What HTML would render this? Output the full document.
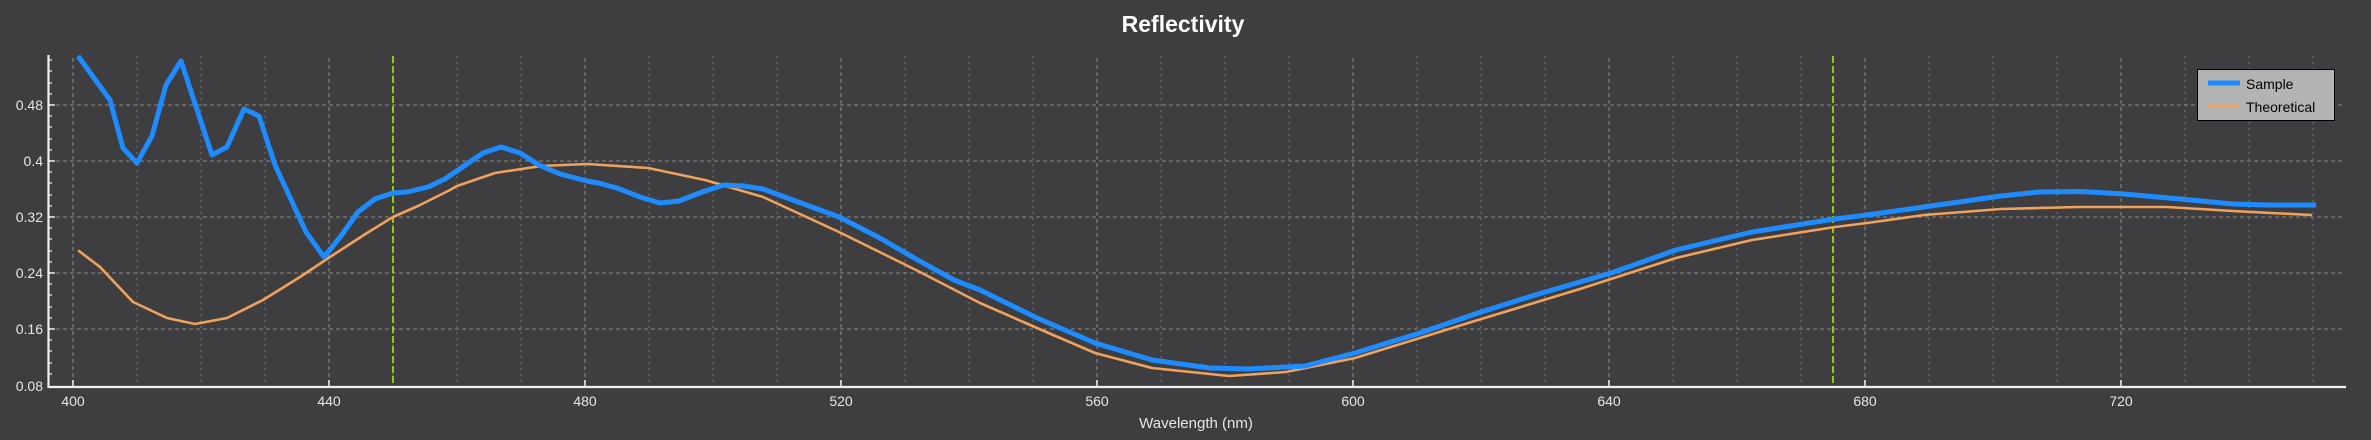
<!DOCTYPE html>
<html><head><meta charset="utf-8"><style>
html,body{margin:0;padding:0;background:#3e3e41;}
svg{display:block;font-family:"Liberation Sans","DejaVu Sans",sans-serif;}
</style></head><body>
<svg width="2371" height="440" viewBox="0 0 2371 440" xmlns="http://www.w3.org/2000/svg">
<rect width="2371" height="440" fill="#3e3e41"/>
<text x="1183" y="32" font-size="23" font-weight="bold" fill="#ffffff" text-anchor="middle">Reflectivity</text>
<g stroke="#777" stroke-width="1" stroke-dasharray="2,4">
<line x1="137" y1="56" x2="137" y2="386"/><line x1="201" y1="56" x2="201" y2="386"/><line x1="265" y1="56" x2="265" y2="386"/>
<line x1="393" y1="56" x2="393" y2="386"/><line x1="457" y1="56" x2="457" y2="386"/><line x1="521" y1="56" x2="521" y2="386"/>
<line x1="649" y1="56" x2="649" y2="386"/><line x1="713" y1="56" x2="713" y2="386"/><line x1="777" y1="56" x2="777" y2="386"/>
<line x1="905" y1="56" x2="905" y2="386"/><line x1="969" y1="56" x2="969" y2="386"/><line x1="1033" y1="56" x2="1033" y2="386"/>
<line x1="1161" y1="56" x2="1161" y2="386"/><line x1="1225" y1="56" x2="1225" y2="386"/><line x1="1289" y1="56" x2="1289" y2="386"/>
<line x1="1417" y1="56" x2="1417" y2="386"/><line x1="1481" y1="56" x2="1481" y2="386"/><line x1="1545" y1="56" x2="1545" y2="386"/>
<line x1="1673" y1="56" x2="1673" y2="386"/><line x1="1737" y1="56" x2="1737" y2="386"/><line x1="1801" y1="56" x2="1801" y2="386"/>
<line x1="1929" y1="56" x2="1929" y2="386"/><line x1="1993" y1="56" x2="1993" y2="386"/><line x1="2057" y1="56" x2="2057" y2="386"/>
<line x1="2185" y1="56" x2="2185" y2="386"/><line x1="2249" y1="56" x2="2249" y2="386"/><line x1="2313" y1="56" x2="2313" y2="386"/>
</g>
<g stroke="#7c7c7c" stroke-width="1.3" stroke-dasharray="4,3">
<line x1="73" y1="58" x2="73" y2="386"/><line x1="329" y1="58" x2="329" y2="386"/><line x1="585" y1="58" x2="585" y2="386"/>
<line x1="841" y1="58" x2="841" y2="386"/><line x1="1097" y1="58" x2="1097" y2="386"/><line x1="1353" y1="58" x2="1353" y2="386"/>
<line x1="1609" y1="58" x2="1609" y2="386"/><line x1="1865" y1="58" x2="1865" y2="386"/><line x1="2121" y1="58" x2="2121" y2="386"/>
<line x1="49" y1="105" x2="2343" y2="105"/><line x1="49" y1="161" x2="2343" y2="161"/><line x1="49" y1="217" x2="2343" y2="217"/>
<line x1="49" y1="273" x2="2343" y2="273"/><line x1="49" y1="329" x2="2343" y2="329"/>
</g>
<g stroke="#b2f01e" stroke-width="1.5" stroke-dasharray="7,3">
<line x1="393" y1="56" x2="393" y2="386"/><line x1="1833" y1="56" x2="1833" y2="386"/>
</g>
<polyline fill="none" stroke="#f0a25c" stroke-width="2.6" stroke-linejoin="round" stroke-linecap="round" points="79,251 100,267 133,302 167,318 195,324 227,318 263,300 300,277 330,257 367,233 393,217 418,206 450,190 457,186 495,173 541,166 587,164 648,168 705,180 763,197 839,232 916,270 980,303 1037,328 1095,353 1152,368 1229,376 1286,372 1355,358 1420,338 1478,320 1580,289 1611,279 1676,258 1752,240 1835,227 1867,223 1924,215 2001,209 2078,207 2124,207 2167,207 2233,211 2311,215"/>
<polyline fill="none" stroke="#1e8cff" stroke-width="5" stroke-linejoin="round" points="78,56 110,100 123,148 137,163 152,136 166,85 181,61 212,155 227,147 244,109 259,116 275,165 306,232 324,257 341,236 358,212 375,199 393,193 407,192 428,187 445,179 464,166 483,153 501,147 520,153 539,165 560,174 587,181 598,183 617,188 640,197 660,203 679,201 702,192 724,185 744,186 763,189 801,203 839,217 878,237 916,259 954,280 980,290 1037,318 1095,343 1152,360 1210,368 1248,369 1305,366 1355,353 1420,333 1478,313 1535,295 1580,282 1611,273 1676,250 1752,232 1835,219 1867,215 1924,207 2001,196 2039,192 2081,191.5 2124,194 2180,199 2233,204 2267,205 2316,205"/>
<g stroke="#f0f0f0" stroke-width="2.2">
<line x1="48.5" y1="55" x2="48.5" y2="388"/><line x1="47.5" y1="387" x2="2346" y2="387"/>
</g>
<g stroke="#f0f0f0" stroke-width="1.5">
<line x1="73" y1="386" x2="73" y2="380"/><line x1="329" y1="386" x2="329" y2="380"/><line x1="585" y1="386" x2="585" y2="380"/>
<line x1="841" y1="386" x2="841" y2="380"/><line x1="1097" y1="386" x2="1097" y2="380"/><line x1="1353" y1="386" x2="1353" y2="380"/>
<line x1="1609" y1="386" x2="1609" y2="380"/><line x1="1865" y1="386" x2="1865" y2="380"/><line x1="2121" y1="386" x2="2121" y2="380"/>
<line x1="49" y1="105" x2="55" y2="105"/><line x1="49" y1="161" x2="55" y2="161"/><line x1="49" y1="217" x2="55" y2="217"/>
<line x1="49" y1="273" x2="55" y2="273"/><line x1="49" y1="329" x2="55" y2="329"/>
</g>
<g stroke="#f0f0f0" stroke-width="1.2">
<line x1="49" y1="60" x2="52" y2="60"/><line x1="49" y1="71" x2="52" y2="71"/><line x1="49" y1="83" x2="52" y2="83"/><line x1="49" y1="94" x2="52" y2="94"/>
<line x1="49" y1="116" x2="52" y2="116"/><line x1="49" y1="127" x2="52" y2="127"/><line x1="49" y1="139" x2="52" y2="139"/><line x1="49" y1="150" x2="52" y2="150"/>
<line x1="49" y1="172" x2="52" y2="172"/><line x1="49" y1="183" x2="52" y2="183"/><line x1="49" y1="195" x2="52" y2="195"/><line x1="49" y1="206" x2="52" y2="206"/>
<line x1="49" y1="228" x2="52" y2="228"/><line x1="49" y1="239" x2="52" y2="239"/><line x1="49" y1="251" x2="52" y2="251"/><line x1="49" y1="262" x2="52" y2="262"/>
<line x1="49" y1="284" x2="52" y2="284"/><line x1="49" y1="295" x2="52" y2="295"/><line x1="49" y1="307" x2="52" y2="307"/><line x1="49" y1="318" x2="52" y2="318"/>
<line x1="49" y1="340" x2="52" y2="340"/><line x1="49" y1="351" x2="52" y2="351"/><line x1="49" y1="363" x2="52" y2="363"/><line x1="49" y1="374" x2="52" y2="374"/>
</g>
<g fill="#e6e6e6" font-size="14" text-anchor="end">
<text x="43" y="110">0.48</text><text x="43" y="166">0.4</text><text x="43" y="222">0.32</text>
<text x="43" y="278">0.24</text><text x="43" y="334">0.16</text><text x="43" y="391">0.08</text>
</g>
<g fill="#e6e6e6" font-size="14" text-anchor="middle">
<text x="73" y="406">400</text><text x="329" y="406">440</text><text x="585" y="406">480</text>
<text x="841" y="406">520</text><text x="1097" y="406">560</text><text x="1353" y="406">600</text>
<text x="1609" y="406">640</text><text x="1865" y="406">680</text><text x="2121" y="406">720</text>
</g>
<text x="1196" y="428" font-size="15" fill="#e6e6e6" text-anchor="middle">Wavelength (nm)</text>
<rect x="2197.5" y="69.5" width="137" height="51" fill="#b3b3b3" stroke="#000" stroke-width="1"/>
<line x1="2208" y1="83" x2="2240" y2="83" stroke="#1e8cff" stroke-width="5"/>
<line x1="2208" y1="106" x2="2240" y2="106" stroke="#f0a25c" stroke-width="2.6"/>
<text x="2246" y="89" font-size="14" fill="#000">Sample</text>
<text x="2246" y="112" font-size="14" fill="#000">Theoretical</text>
</svg>
</body></html>
